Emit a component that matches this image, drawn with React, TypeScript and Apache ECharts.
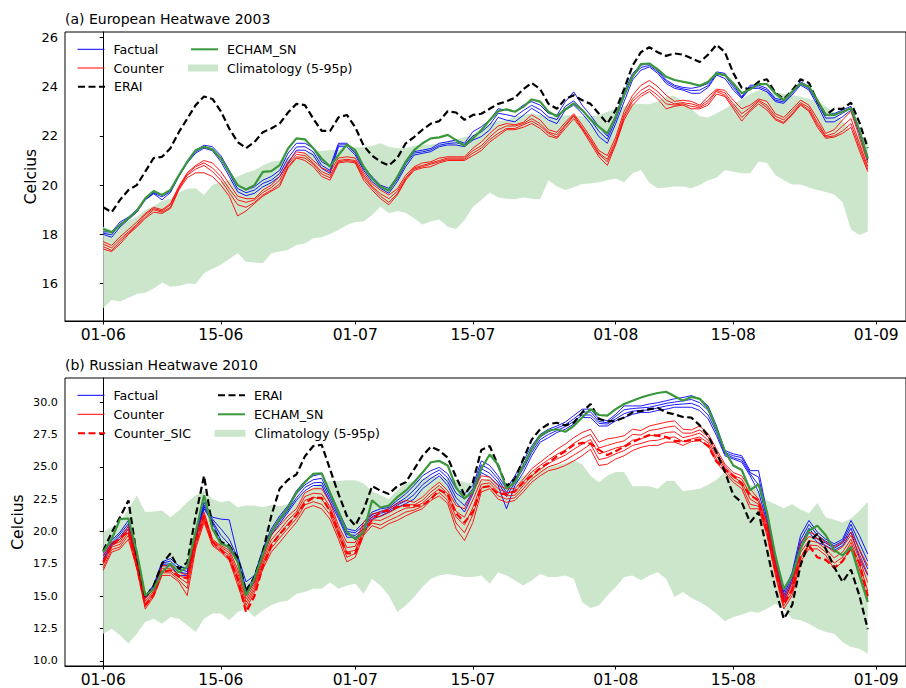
import React, { useEffect, useRef } from 'react';
import * as echarts from 'echarts';

// ---------- shared axis ticks ----------
const xTickDays = [0, 14, 30, 44, 61, 75, 92];
const xTickLabels = ['01-06', '15-06', '01-07', '15-07', '01-08', '15-08', '01-09'];
const yTicksA = [16, 18, 20, 22, 24, 26];
const yTicksB = [10, 12.5, 15, 17.5, 20, 22.5, 25, 27.5, 30];

// ---------- (a) European Heatwave 2003 ----------
const eraiA = [19.1, 18.9, 19.4, 19.8, 20.0, 20.55, 21.1, 21.15, 21.5, 22.15,
  22.7, 23.25, 23.6, 23.5, 23.0, 22.3, 21.75, 21.5, 21.75, 22.15,
  22.3, 22.5, 22.95, 23.3, 23.25, 22.7, 22.2, 22.2, 22.75, 22.85,
  22.35, 21.6, 21.2, 20.95, 20.8, 21.1, 21.7, 21.95, 22.25, 22.5,
  22.6, 23.0, 22.95, 22.65, 22.85, 22.9, 23.1, 23.3, 23.4, 23.55,
  23.9, 24.15, 23.9, 23.3, 23.1, 23.5, 23.65, 23.45, 23.3, 22.9,
  22.5, 23.05, 23.9, 24.85, 25.4, 25.6, 25.4, 25.25, 25.35, 25.3,
  25.15, 25.0, 25.3, 25.7, 25.4, 24.55, 23.95, 23.9, 24.2, 24.3,
  23.75, 23.5, 23.85, 24.3, 24.15, 23.4, 22.85, 23.1, 23.1, 23.35,
  22.55, 21.5];
const echamA = [18.22, 18.08, 18.38, 18.65, 18.95, 19.46, 19.76, 19.6, 19.8, 20.4,
  20.95, 21.42, 21.56, 21.45, 21.08, 20.54, 20.0, 19.82, 20.0, 20.54,
  20.57, 20.81, 21.49, 21.9, 21.86, 21.5, 21.08, 20.75, 21.22, 21.65,
  21.42, 20.75, 20.27, 19.94, 19.77, 20.34, 20.95, 21.42, 21.7, 21.9,
  21.94, 22.04, 21.83, 21.6, 21.9, 22.23, 22.64, 23.0, 23.08, 22.98,
  23.18, 23.48, 23.39, 22.98, 22.8, 23.08, 23.32, 23.05, 22.67, 22.37,
  22.1, 22.78, 23.66, 24.4, 24.92, 24.94, 24.7, 24.4, 24.27, 24.2,
  24.13, 24.04, 24.2, 24.54, 24.47, 24.13, 23.73, 23.89, 24.1, 24.1,
  23.73, 23.45, 23.8, 24.13, 24.0, 23.45, 22.85, 22.85, 22.98, 23.12,
  22.24, 21.08];
const factualA1 = [18.1, 18.1, 18.5, 18.7, 19.0, 19.45, 19.7, 19.6, 19.78, 20.4,
  20.95, 21.42, 21.62, 21.56, 21.2, 20.6, 20.0, 19.8, 19.93, 20.2,
  20.35, 20.6, 21.3, 21.7, 21.7, 21.5, 20.95, 20.75, 21.7, 21.7,
  21.36, 20.75, 20.34, 20.0, 19.87, 20.34, 20.95, 21.36, 21.42, 21.49,
  21.7, 21.76, 21.83, 21.7, 22.17, 22.37, 22.64, 23.1, 23.05, 22.98,
  23.25, 23.39, 23.25, 22.91, 22.84, 23.39, 23.79, 23.25, 22.84, 22.37,
  21.99, 22.84, 23.79, 24.53, 24.87, 24.94, 24.67, 24.27, 24.06, 23.97,
  23.93, 24.0, 24.13, 24.6, 24.54, 24.06, 23.59, 24.06, 24.06, 23.93,
  23.52, 23.45, 23.79, 24.2, 24.0, 23.45, 22.85, 22.91, 23.05, 23.2,
  22.24, 21.15];
const factualA2 = [18.05, 17.98, 18.42, 18.66, 18.95, 19.42, 19.67, 19.52, 19.74, 20.37,
  20.92, 21.36, 21.55, 21.47, 21.07, 20.47, 19.86, 19.69, 19.8, 20.07,
  20.2, 20.47, 21.1, 21.55, 21.56, 21.35, 20.8, 20.6, 21.63, 21.64,
  21.3, 20.68, 20.25, 19.93, 19.78, 20.23, 20.86, 21.3, 21.35, 21.43,
  21.62, 21.69, 21.72, 21.64, 22.0, 22.16, 22.45, 22.92, 22.86, 22.78,
  23.03, 23.24, 23.07, 22.77, 22.66, 23.2, 23.42, 23.07, 22.67, 22.18,
  21.86, 22.66, 23.6, 24.41, 24.78, 24.86, 24.61, 24.21, 24.0, 23.91,
  23.84, 23.86, 24.04, 24.52, 24.45, 23.97, 23.55, 23.99, 23.99, 23.86,
  23.45, 23.38, 23.73, 24.12, 23.92, 23.36, 22.72, 22.73, 22.92, 23.13,
  22.17, 21.08];
const factualA3 = [18.0, 17.88, 18.3, 18.6, 18.9, 19.4, 19.65, 19.4, 19.7, 20.35,
  20.9, 21.3, 21.5, 21.4, 20.95, 20.35, 19.73, 19.57, 19.67, 19.93,
  20.1, 20.35, 20.9, 21.42, 21.42, 21.22, 20.68, 20.48, 21.56, 21.56,
  21.22, 20.6, 20.14, 19.87, 19.67, 20.14, 20.75, 21.22, 21.29, 21.36,
  21.56, 21.63, 21.63, 21.56, 21.83, 21.97, 22.24, 22.75, 22.64, 22.57,
  22.84, 23.12, 22.91, 22.64, 22.5, 23.05, 23.25, 22.91, 22.5, 21.97,
  21.7, 22.5, 23.39, 24.27, 24.67, 24.8, 24.54, 24.13, 23.93, 23.86,
  23.73, 23.73, 23.97, 24.47, 24.33, 23.86, 23.52, 23.93, 23.93, 23.79,
  23.39, 23.32, 23.66, 24.06, 23.86, 23.25, 22.57, 22.57, 22.78, 23.05,
  22.1, 21.0];
const counterA1 = [17.7, 17.55, 17.9, 18.2, 18.5, 18.85, 19.1, 19.0, 19.25, 19.95,
  20.5, 20.8, 21.0, 20.9, 20.55, 20.05, 19.55, 19.45, 19.45, 19.8,
  20.0, 20.35, 20.95, 21.35, 21.3, 21.0, 20.7, 20.55, 21.1, 21.15,
  21.1, 20.5, 20.05, 19.8, 19.6, 19.85, 20.4, 20.75, 20.9, 20.95,
  21.1, 21.15, 21.15, 21.15, 21.5, 21.75, 22.1, 22.4, 22.5, 22.45,
  22.55, 22.85, 22.65, 22.25, 22.15, 22.55, 22.9, 22.45, 21.95, 21.4,
  21.2, 21.95, 23.0, 23.65, 24.05, 24.25, 24.0, 23.65, 23.4, 23.45,
  23.4, 23.25, 23.6, 23.9, 23.85, 23.45, 23.1, 23.25, 23.5, 23.4,
  22.9, 22.75, 23.1, 23.45, 23.25, 22.7, 22.1, 22.25, 22.65, 23.0,
  21.95, 20.9];
const counterA2 = [17.6, 17.45, 17.8, 18.1, 18.4, 18.8, 19.05, 18.95, 19.2, 19.9,
  20.45, 20.75, 20.9, 20.7, 20.35, 19.85, 19.4, 19.3, 19.4, 19.7,
  19.9, 20.2, 20.85, 21.25, 21.2, 20.9, 20.55, 20.4, 21.0, 21.05,
  21.0, 20.4, 19.95, 19.65, 19.45, 19.75, 20.3, 20.7, 20.8, 20.9,
  21.0, 21.1, 21.1, 21.1, 21.4, 21.6, 21.95, 22.25, 22.4, 22.4,
  22.5, 22.7, 22.5, 22.15, 22.05, 22.45, 22.85, 22.35, 21.85, 21.3,
  21.05, 21.8, 22.85, 23.5, 23.85, 24.05, 23.8, 23.45, 23.3, 23.35,
  23.3, 23.2, 23.45, 23.85, 23.75, 23.3, 22.9, 23.15, 23.45, 23.25,
  22.8, 22.65, 23.0, 23.35, 23.15, 22.55, 22.0, 22.1, 22.4, 22.7,
  21.7, 20.75];
const counterA3 = [17.5, 17.35, 17.7, 18.05, 18.35, 18.7, 19.0, 18.9, 19.1, 19.85,
  20.4, 20.65, 20.8, 20.55, 20.2, 19.7, 19.2, 19.1, 19.3, 19.6,
  19.8, 20.05, 20.75, 21.15, 21.1, 20.85, 20.45, 20.3, 20.95, 21.0,
  20.95, 20.3, 19.9, 19.55, 19.3, 19.65, 20.25, 20.65, 20.75, 20.85,
  20.95, 21.05, 21.05, 21.05, 21.3, 21.5, 21.85, 22.1, 22.3, 22.3,
  22.45, 22.6, 22.4, 22.1, 21.95, 22.4, 22.8, 22.3, 21.8, 21.25,
  20.95, 21.7, 22.75, 23.4, 23.7, 23.9, 23.65, 23.3, 23.25, 23.3,
  23.2, 23.15, 23.35, 23.8, 23.65, 23.2, 22.75, 23.05, 23.4, 23.15,
  22.7, 22.55, 22.9, 23.3, 23.05, 22.45, 21.95, 22.0, 22.2, 22.5,
  21.55, 20.65];
const counterA4 = [17.4, 17.3, 17.6, 18.0, 18.3, 18.65, 18.9, 18.85, 19.05, 19.8,
  20.3, 20.5, 20.5, 20.35, 20.0, 19.55, 18.75, 18.95, 19.25, 19.55,
  19.75, 19.95, 20.7, 21.1, 21.0, 20.75, 20.35, 20.2, 20.9, 20.95,
  20.9, 20.2, 19.8, 19.45, 19.2, 19.6, 20.2, 20.6, 20.7, 20.75,
  20.9, 21.0, 21.0, 21.0, 21.2, 21.4, 21.75, 22.0, 22.25, 22.25,
  22.35, 22.5, 22.3, 22.0, 21.9, 22.3, 22.7, 22.25, 21.7, 21.15,
  20.8, 21.65, 22.65, 23.25, 23.6, 23.8, 23.5, 23.1, 23.2, 23.25,
  23.1, 23.1, 23.25, 23.7, 23.6, 23.1, 22.6, 23.0, 23.3, 23.05,
  22.65, 22.5, 22.85, 23.25, 23.0, 22.35, 21.9, 21.95, 22.1, 22.35,
  21.4, 20.55];
const climLoA = [15.0, 15.33, 15.27, 15.42, 15.58, 15.63, 15.8, 16.04, 15.87, 15.9,
  16.0, 15.98, 16.42, 16.6, 16.76, 17.0, 17.23, 16.89, 16.86, 16.83,
  17.23, 17.3, 17.36, 17.57, 17.63, 17.84, 17.88, 18.01, 18.18, 18.38,
  18.5, 18.52, 18.79, 19.12, 18.86, 18.95, 18.88, 18.65, 18.4, 18.52,
  18.6, 18.31, 18.22, 18.58, 19.12, 19.4, 19.7, 19.5, 19.45, 19.43,
  19.5, 19.45, 19.43, 20.2, 19.94, 19.8, 19.91, 20.05, 20.07, 20.12,
  20.2, 20.27, 20.12, 20.48, 20.61, 20.1, 19.87, 19.9, 19.94, 19.94,
  19.87, 20.0, 20.2, 20.3, 20.61, 20.54, 20.48, 20.48, 20.95, 20.91,
  20.41, 20.2, 20.03, 20.03, 19.9, 19.8, 19.72, 19.62, 19.3, 18.2,
  17.97, 18.12];
const climHiA = [18.31, 18.18, 18.35, 18.55, 18.72, 18.99, 19.15, 19.35, 19.45, 19.7,
  19.85, 19.87, 19.6, 20.0, 20.12, 20.2, 20.35, 20.5, 20.6, 20.8,
  20.95, 21.0, 21.12, 21.15, 21.3, 21.36, 21.4, 21.42, 21.45, 21.5,
  21.53, 21.55, 21.6, 21.7, 21.56, 21.5, 21.5, 21.6, 21.65, 21.65,
  21.7, 21.8, 21.85, 21.95, 22.05, 22.3, 22.5, 22.6, 22.64, 22.8,
  22.84, 22.91, 22.84, 22.8, 22.8, 22.84, 22.84, 22.8, 22.8, 22.84,
  22.98, 23.1, 23.2, 23.32, 23.3, 23.28, 23.4, 23.6, 23.62, 23.4,
  23.1, 22.8, 22.75, 22.92, 23.1, 23.3, 23.5, 23.7, 23.85, 23.8,
  23.75, 23.7, 23.65, 23.6, 23.5, 23.4, 23.2, 22.95, 22.6, 22.2,
  22.0, 21.85];

// ---------- (b) Russian Heatwave 2010 ----------
const eraiB = [18.5, 19.9, 21.1, 22.4, 18.1, 14.9, 15.8, 17.5, 18.3, 17.1,
  17.6, 21.2, 24.3, 20.3, 19.2, 18.9, 18.0, 15.35, 16.5, 18.4,
  21.2, 23.3, 24.0, 24.4, 25.8, 26.6, 26.7, 24.8, 22.9, 21.2,
  20.45, 21.7, 23.5, 23.15, 22.9, 23.5, 23.8, 24.8, 25.85, 26.55,
  26.25, 25.7, 24.2, 22.8, 23.8, 26.3, 26.6, 25.1, 23.5, 24.05,
  25.6, 27.1, 27.9, 28.3, 28.4, 28.2, 28.4, 29.2, 29.85, 28.7,
  28.5, 28.55, 28.8, 29.2, 29.3, 29.45, 29.55, 29.2, 29.05, 28.85,
  28.8, 28.2, 27.4, 26.1, 24.6, 22.8, 22.25, 20.7, 21.5, 18.6,
  15.6, 13.25, 14.3, 17.4, 19.2, 19.8, 18.65, 17.25, 16.1, 17.05,
  15.05, 12.45];
const echamB = [18.4, 19.4, 20.95, 21.0, 18.4, 15.05, 15.55, 16.85, 17.5, 16.85,
  17.25, 19.95, 22.8, 20.2, 19.05, 18.8, 17.65, 15.05, 16.35, 18.25,
  19.95, 20.95, 21.85, 23.0, 23.8, 24.45, 24.5, 23.0, 21.5, 19.95,
  19.4, 19.95, 22.4, 21.85, 22.0, 22.65, 23.15, 23.8, 24.55, 25.35,
  25.45, 25.1, 23.4, 22.55, 23.05, 24.85, 25.95, 25.15, 23.3, 23.8,
  25.1, 26.35, 27.4, 27.8, 27.9, 27.7, 28.15, 28.8, 29.45, 29.0,
  28.95, 29.45, 29.85, 30.1, 30.35, 30.55, 30.7, 30.8, 30.45, 30.1,
  30.4, 30.25, 29.5, 27.9, 26.2, 25.1, 24.75, 23.2, 23.65, 21.5,
  18.15, 15.55, 16.6, 18.65, 20.05, 20.45, 19.7, 18.55, 18.15, 18.8,
  16.6, 14.55];
const factualB1 = [18.3, 19.3, 19.95, 20.85, 18.15, 15.05, 15.85, 17.65, 17.9, 17.35,
  17.1, 19.95, 22.25, 21.1, 20.95, 20.9, 18.15, 16.1, 16.6, 18.65,
  20.2, 21.2, 22.0, 23.15, 23.9, 24.3, 24.45, 23.0, 21.6, 20.2,
  20.05, 20.7, 21.5, 21.75, 21.85, 22.4, 22.9, 23.55, 24.3, 24.7,
  24.95, 24.45, 23.3, 22.9, 23.55, 25.45, 25.1, 24.3, 23.3, 24.3,
  25.45, 26.6, 27.5, 27.9, 28.15, 28.45, 28.95, 29.45, 29.45, 28.7,
  28.55, 29.05, 29.7, 29.7, 29.7, 29.85, 29.95, 30.1, 30.25, 30.35,
  30.5, 30.25, 29.7, 28.15, 26.25, 26.0, 25.85, 24.7, 24.7, 21.5,
  18.15, 15.3, 16.85, 19.7, 20.85, 19.95, 19.4, 19.05, 19.4, 20.85,
  19.7, 18.25];
const factualB2 = [18.1, 19.1, 19.8, 20.6, 17.95, 15.0, 15.75, 17.55, 17.7, 17.1,
  16.9, 19.75, 22.05, 20.95, 20.2, 19.4, 17.95, 15.6, 16.4, 18.45,
  20.0, 21.0, 21.8, 22.9, 23.6, 24.0, 24.1, 22.75, 21.4, 20.0,
  19.9, 20.45, 21.3, 21.55, 21.75, 22.2, 22.6, 23.2, 23.95, 24.4,
  24.75, 24.15, 22.95, 22.5, 23.3, 25.15, 24.8, 24.05, 23.0, 24.05,
  25.15, 26.35, 27.3, 27.7, 28.0, 28.25, 28.7, 29.2, 29.25, 28.5,
  28.4, 28.9, 29.4, 29.5, 29.55, 29.6, 29.75, 29.9, 30.0, 30.1,
  30.2, 29.95, 29.35, 27.9, 26.1, 25.85, 25.7, 24.55, 24.2, 21.25,
  17.9, 15.05, 16.6, 19.35, 20.55, 19.7, 19.25, 18.9, 19.25, 20.55,
  19.1, 17.7];
const factualB3 = [17.9, 19.0, 19.6, 20.4, 17.8, 14.9, 15.65, 17.45, 17.5, 16.85,
  16.75, 19.6, 21.9, 20.8, 19.7, 19.0, 17.8, 15.3, 16.25, 18.3,
  19.85, 20.8, 21.65, 22.6, 23.4, 23.75, 23.8, 22.5, 21.2, 19.75,
  19.7, 20.2, 21.15, 21.4, 21.6, 22.05, 22.35, 22.85, 23.6, 24.1,
  24.5, 23.85, 22.6, 22.0, 23.1, 24.85, 24.5, 23.8, 22.7, 23.8,
  24.85, 26.1, 27.1, 27.5, 27.8, 28.1, 28.5, 29.0, 29.0, 28.35,
  28.3, 28.7, 29.1, 29.3, 29.35, 29.4, 29.55, 29.7, 29.8, 29.85,
  29.9, 29.65, 29.0, 27.65, 26.0, 25.7, 25.5, 24.45, 23.6, 21.0,
  17.6, 14.8, 16.35, 19.0, 20.25, 19.4, 19.1, 18.7, 19.1, 20.25,
  18.6, 17.1];
const factualB4 = [17.75, 18.9, 19.4, 20.2, 17.6, 14.85, 15.55, 17.35, 17.35, 16.6,
  16.6, 19.4, 21.75, 20.7, 19.3, 18.65, 17.6, 15.05, 16.1, 18.15,
  19.7, 20.6, 21.5, 22.4, 23.15, 23.55, 23.55, 22.25, 21.0, 19.55,
  19.55, 19.95, 20.95, 21.2, 21.5, 21.85, 22.15, 22.5, 23.3, 23.8,
  24.3, 23.55, 22.25, 21.5, 22.9, 24.55, 24.2, 23.55, 21.75, 23.55,
  24.55, 25.85, 26.9, 27.25, 27.65, 27.9, 28.3, 28.8, 28.8, 28.15,
  28.15, 28.55, 28.8, 29.05, 29.2, 29.2, 29.35, 29.45, 29.6, 29.6,
  29.6, 29.35, 28.7, 27.4, 25.85, 25.6, 25.35, 24.3, 23.05, 20.7,
  17.35, 14.55, 16.1, 18.65, 19.95, 19.15, 18.9, 18.55, 18.9, 19.95,
  18.0, 16.6];
const counterB1 = [18.1, 19.15, 19.4, 20.45, 17.9, 14.8, 15.55, 17.35, 17.35, 16.85,
  16.6, 19.7, 21.5, 19.4, 18.9, 18.55, 17.1, 15.05, 16.1, 18.0,
  19.7, 20.45, 21.2, 21.75, 23.0, 23.3, 23.3, 22.25, 20.45, 19.15,
  19.15, 20.7, 21.35, 21.5, 21.75, 22.15, 22.4, 22.25, 22.65, 23.3,
  23.8, 23.15, 22.0, 21.75, 23.05, 24.3, 24.2, 23.55, 23.3, 23.3,
  24.05, 24.85, 25.35, 25.85, 26.35, 26.75, 27.25, 27.65, 27.9, 26.9,
  27.15, 27.25, 27.4, 27.9, 27.8, 28.15, 28.3, 28.45, 28.55, 27.9,
  27.85, 28.15, 27.55, 26.35, 25.2, 24.55, 24.3, 23.3, 22.5, 20.7,
  17.65, 14.95, 16.1, 19.15, 19.95, 19.7, 19.15, 18.8, 19.15, 19.95,
  18.65, 17.35];
const counterB2 = [17.8, 18.95, 19.2, 20.2, 17.7, 14.6, 15.4, 17.15, 17.15, 16.65,
  16.3, 19.4, 21.3, 19.3, 18.8, 18.35, 16.8, 14.8, 15.9, 17.8,
  19.35, 20.1, 20.9, 21.5, 22.7, 22.95, 22.9, 21.9, 20.2, 18.75,
  18.85, 20.45, 21.1, 21.15, 21.45, 21.8, 22.1, 22.05, 22.4, 23.05,
  23.55, 22.9, 21.55, 21.1, 22.45, 24.0, 23.95, 23.3, 23.0, 23.05,
  23.8, 24.6, 25.1, 25.55, 25.95, 26.3, 26.8, 27.2, 27.5, 26.45,
  26.65, 26.85, 27.0, 27.5, 27.45, 27.8, 27.9, 28.05, 28.15, 27.6,
  27.6, 27.85, 27.3, 26.1, 25.05, 24.35, 24.05, 22.9, 22.3, 20.45,
  17.4, 14.7, 15.85, 18.8, 19.6, 19.45, 18.9, 18.4, 18.8, 19.7,
  18.25, 16.7];
const counterB3 = [17.5, 18.8, 19.0, 19.95, 17.5, 14.4, 15.25, 16.95, 16.95, 16.45,
  16.0, 19.15, 21.1, 19.15, 18.65, 18.15, 16.5, 14.55, 15.7, 17.55,
  19.05, 19.8, 20.6, 21.25, 22.4, 22.65, 22.5, 21.6, 19.95, 18.4,
  18.55, 20.2, 20.9, 20.85, 21.15, 21.5, 21.8, 21.85, 22.2, 22.8,
  23.3, 22.65, 21.1, 20.5, 21.85, 23.65, 23.75, 23.05, 22.75, 22.8,
  23.55, 24.3, 24.8, 25.25, 25.6, 25.9, 26.35, 26.75, 27.1, 26.0,
  26.2, 26.45, 26.6, 27.05, 27.15, 27.4, 27.45, 27.65, 27.7, 27.25,
  27.4, 27.6, 27.05, 25.85, 24.9, 24.2, 23.8, 22.5, 22.1, 20.2,
  17.1, 14.5, 15.6, 18.4, 19.3, 19.15, 18.65, 17.95, 18.4, 19.4,
  17.9, 16.05];
const counterB4 = [17.2, 18.6, 18.8, 19.7, 17.3, 14.2, 15.1, 16.8, 16.8, 16.25,
  15.6, 18.9, 20.9, 19.0, 18.5, 17.95, 16.15, 14.3, 15.5, 17.35,
  18.7, 19.5, 20.25, 21.0, 22.05, 22.3, 22.1, 21.3, 19.7, 18.0,
  18.3, 19.95, 20.65, 20.5, 20.85, 21.15, 21.5, 21.65, 21.95, 22.6,
  23.0, 22.4, 20.65, 19.9, 21.3, 23.35, 23.5, 22.75, 22.5, 22.6,
  23.3, 24.05, 24.55, 25.0, 25.2, 25.5, 25.9, 26.3, 26.75, 25.55,
  25.7, 26.0, 26.25, 26.65, 26.8, 27.0, 27.05, 27.25, 27.3, 26.95,
  27.15, 27.3, 26.85, 25.6, 24.75, 24.0, 23.55, 22.1, 21.95, 19.95,
  16.85, 14.25, 15.3, 18.0, 18.95, 18.9, 18.4, 17.55, 18.0, 19.15,
  17.5, 15.4];
const counterB5 = [17.0, 18.4, 18.65, 19.4, 17.1, 14.0, 14.95, 16.6, 16.6, 16.1,
  15.05, 18.65, 20.7, 18.9, 18.4, 17.75, 15.85, 14.0, 15.3, 17.1,
  18.4, 19.15, 19.95, 20.7, 21.75, 22.0, 21.75, 20.95, 19.4, 17.65,
  18.0, 19.7, 20.45, 20.2, 20.6, 20.85, 21.2, 21.5, 21.75, 22.4,
  22.75, 22.15, 20.2, 19.3, 20.7, 23.05, 23.3, 22.5, 22.25, 22.4,
  23.05, 23.8, 24.3, 24.7, 24.85, 25.1, 25.45, 25.85, 26.35, 25.1,
  25.2, 25.6, 25.85, 26.25, 26.5, 26.65, 26.65, 26.9, 26.9, 26.65,
  26.95, 27.0, 26.65, 25.35, 24.55, 23.8, 23.3, 21.75, 21.75, 19.7,
  16.6, 14.0, 15.05, 17.65, 18.65, 18.65, 18.15, 17.1, 17.65, 18.9,
  17.1, 14.8];
const counterSicB = [17.6, 18.9, 19.5, 20.0, 17.3, 14.3, 15.1, 16.9, 17.0, 16.5,
  16.4, 19.2, 21.2, 19.2, 18.6, 17.9, 16.35, 13.75, 15.0, 17.3,
  18.9, 19.8, 20.5, 21.3, 22.2, 22.6, 22.6, 21.6, 19.9, 18.3,
  18.3, 19.9, 20.9, 21.5, 21.6, 21.9, 22.0, 22.0, 22.0, 22.5,
  23.2, 22.9, 21.4, 20.7, 21.5, 23.4, 23.5, 22.9, 22.9, 23.1,
  23.8, 24.3, 24.9, 25.3, 25.8, 26.2, 26.7, 26.85, 26.8, 26.3,
  25.9, 26.2, 26.55, 26.9, 27.2, 27.45, 27.4, 27.3, 27.0, 26.95,
  27.05, 27.1, 26.6, 25.4, 24.8, 24.3, 23.7, 22.8, 22.4, 20.0,
  17.0, 14.4, 15.5, 18.0, 18.9, 18.0, 17.8, 17.2, 17.7, 18.7,
  17.6, 15.0];
const climLoB = [12.1, 12.48, 11.97, 11.33, 12.1, 13.0, 13.26, 12.87, 13.39, 13.26,
  12.74, 12.23, 13.26, 13.65, 13.65, 13.13, 13.77, 14.02, 13.39, 13.9,
  14.29, 14.54, 14.67, 15.18, 15.31, 15.57, 15.57, 16.08, 15.57, 15.83,
  15.96, 15.18, 16.34, 15.83, 15.05, 13.77, 14.28, 14.93, 15.7, 16.34,
  16.6, 16.72, 16.6, 16.47, 16.47, 16.6, 15.96, 16.85, 16.6, 16.21,
  15.83, 16.21, 16.72, 16.47, 16.47, 16.6, 16.34, 14.54, 14.08, 14.28,
  15.05, 15.7, 16.47, 16.6, 16.21, 16.6, 16.85, 16.34, 14.93, 15.31,
  14.85, 14.54, 14.15, 13.64, 13.05, 13.38, 13.57, 13.82, 13.72, 14.03,
  14.41, 14.03, 13.26, 13.13, 12.87, 12.48, 12.23, 12.1, 11.46, 11.07,
  10.94, 10.55];
const climHiB = [19.94, 20.32, 20.71, 21.74, 22.77, 21.48, 21.54, 21.61, 21.1, 21.61,
  22.26, 22.77, 23.16, 22.51, 22.26, 22.38, 21.87, 22.0, 22.0, 21.87,
  22.05, 21.95, 22.13, 22.5, 23.0, 23.4, 23.8, 23.9, 23.9, 23.95,
  23.95, 23.7, 23.1, 22.8, 22.5, 23.2, 23.7, 23.9, 24.1, 24.25,
  24.2, 24.1, 24.0, 23.8, 23.7, 23.9, 24.1, 23.8, 23.7, 24.0,
  24.3, 24.6, 24.9, 25.0, 25.1, 25.3, 25.5, 25.2, 24.3, 23.8,
  24.3, 24.6, 24.6, 23.5, 23.5, 23.5, 23.3, 23.9, 23.9, 23.1,
  23.2, 23.3, 23.6, 24.0, 24.6, 24.2, 24.0, 23.6, 23.1, 22.4,
  22.1, 21.8, 22.1, 21.7, 21.4, 22.2, 21.1, 20.9, 20.7, 21.0,
  21.6, 22.3];

// ---------- styling ----------
const FONT = 'DejaVu Sans';
const BAND = '#cce6cc';
const GREEN = '#3b973b';
const BLUE = '#0000ff';
const RED = '#ff0000';

const xy = (arr: number[]) => arr.map((v, i) => [i, v]);

function line(name: string, arr: number[], g: number, color: string, width: number, dashed = false, z = 3) {
  return {
    type: 'line', name, xAxisIndex: g, yAxisIndex: g, data: xy(arr),
    symbol: 'none', showSymbol: false, silent: true, z,
    lineStyle: { color, width, type: dashed ? [7, 3.5] : 'solid', cap: 'butt' },
    itemStyle: { color },
    emphasis: { disabled: true },
  };
}

function band(lo: number[], hi: number[], g: number) {
  return {
    type: 'custom', name: 'Climatology (5-95p)', xAxisIndex: g, yAxisIndex: g,
    data: [[0, lo[0]]], silent: true, z: 1, clip: true,
    itemStyle: { color: BAND },
    renderItem: (_p: any, api: any) => {
      const pts: number[][] = [];
      for (let i = 0; i < hi.length; i++) pts.push(api.coord([i, hi[i]]));
      for (let i = lo.length - 1; i >= 0; i--) pts.push(api.coord([i, lo[i]]));
      return { type: 'polygon', shape: { points: pts }, style: { fill: BAND, stroke: null } };
    },
  };
}

function leg(item: any, left: number, cy: number, extra: any = {}) {
  return {
    left, top: cy - 6.5, orient: 'horizontal', padding: 0, itemGap: 0, selectedMode: false,
    itemWidth: 27, itemHeight: 12,
    itemStyle: { opacity: 0 },
    textStyle: { fontFamily: FONT, fontSize: 12.6, color: '#000', padding: [0, 0, 0, 4] },
    data: [item], ...extra,
  };
}

const thin = (name: string) => ({ name, lineStyle: { width: 1 } });

function xAxis(g: number) {
  return {
    type: 'value', gridIndex: g, min: -4.55, max: 95.55,
    axisLine: { show: true, lineStyle: { color: '#000', width: 1 } },
    axisTick: { show: true, length: 3.5, lineStyle: { color: '#000' }, customValues: xTickDays },
    axisLabel: {
      customValues: xTickDays,
      formatter: (v: number) => { const k = xTickDays.indexOf(v); return k >= 0 ? xTickLabels[k] : ''; },
      fontFamily: FONT, fontSize: 15.5, color: '#000', margin: 6,
    },
    splitLine: { show: false },
  };
}

function yAxis(g: number, min: number, max: number, ticks: number[], fmt: (v: number) => string, fs: number, gap: number) {
  return {
    type: 'value', gridIndex: g, min, max,
    name: 'Celcius', nameLocation: 'middle', nameGap: gap, nameRotate: 90,
    nameMoveOverlap: false,
    nameTextStyle: { fontFamily: FONT, fontSize: 15.5, color: '#000' },
    axisLine: { show: true, lineStyle: { color: '#000', width: 1 } },
    axisTick: { show: true, length: 3.5, lineStyle: { color: '#000' }, customValues: ticks },
    axisLabel: { customValues: ticks, formatter: fmt, fontFamily: FONT, fontSize: fs, color: '#000', margin: 7 },
    splitLine: { show: false },
  };
}

function buildOption() {
  const series: any[] = [
    band(climLoA, climHiA, 0),
    line('Factual', factualA1, 0, BLUE, 0.9),
    line('Factual', factualA2, 0, BLUE, 0.9),
    line('Factual', factualA3, 0, BLUE, 0.9),
    line('Counter', counterA1, 0, RED, 0.9),
    line('Counter', counterA2, 0, RED, 0.9),
    line('Counter', counterA3, 0, RED, 0.9),
    line('Counter', counterA4, 0, RED, 0.9),
    line('ERAI', eraiA, 0, '#000', 2.2, true, 4),
    line('ECHAM_SN', echamA, 0, GREEN, 2.2, false, 5),

    band(climLoB, climHiB, 1),
    line('Factual', factualB1, 1, BLUE, 0.9),
    line('Factual', factualB2, 1, BLUE, 0.9),
    line('Factual', factualB3, 1, BLUE, 0.9),
    line('Factual', factualB4, 1, BLUE, 0.9),
    line('Counter', counterB1, 1, RED, 0.9),
    line('Counter', counterB2, 1, RED, 0.9),
    line('Counter', counterB3, 1, RED, 0.9),
    line('Counter', counterB4, 1, RED, 0.9),
    line('Counter', counterB5, 1, RED, 0.9),
    line('Counter_SIC', counterSicB, 1, RED, 2.2, true, 4),
    line('ERAI', eraiB, 1, '#000', 2.2, true, 4),
    line('ECHAM_SN', echamB, 1, GREEN, 2.2, false, 5),
  ];
  const climItem = { name: 'Climatology (5-95p)', icon: 'rect', itemStyle: { color: BAND, opacity: 1 } };
  return {
    animation: false,
    backgroundColor: '#fff',
    title: [
      { text: '(a) European Heatwave 2003', left: 65, top: 12, padding: 0,
        textStyle: { fontFamily: FONT, fontSize: 14, fontWeight: 'normal', color: '#000' } },
      { text: '(b) Russian Heatwave 2010', left: 65, top: 358, padding: 0,
        textStyle: { fontFamily: FONT, fontSize: 14, fontWeight: 'normal', color: '#000' } },
    ],
    grid: [
      { left: 65, top: 32, width: 849, height: 289, show: true, borderColor: '#000', borderWidth: 1, containLabel: false },
      { left: 65, top: 378, width: 849, height: 289, show: true, borderColor: '#000', borderWidth: 1, containLabel: false },
    ],
    xAxis: [xAxis(0), xAxis(1)],
    yAxis: [
      yAxis(0, 14.48, 26.22, yTicksA, (v: number) => String(v), 13, 26),
      yAxis(1, 9.6, 31.86, yTicksB, (v: number) => v.toFixed(1), 11.2, 39),
    ],
    legend: [
      leg(thin('Factual'), 77, 49.3),
      leg(thin('Counter'), 77, 68),
      leg('ERAI', 77, 86.7),
      leg('ECHAM_SN', 190, 49.3),
      leg(climItem, 188, 68, { itemWidth: 30, itemHeight: 7, itemStyle: { opacity: 1 } }),
      leg(thin('Factual'), 77, 395.3),
      leg(thin('Counter'), 77, 414.3),
      leg('Counter_SIC', 77, 433.3),
      leg('ERAI', 217, 395.3),
      leg('ECHAM_SN', 217, 414.3),
      leg(climItem, 214.5, 433.3, { itemWidth: 31, itemHeight: 7, itemStyle: { opacity: 1 } }),
    ],
    series,
  };
}

export default function App() {
  const ref = useRef<HTMLDivElement>(null);
  useEffect(() => {
    document.body.style.margin = '0';
    const chart = echarts.init(ref.current as HTMLDivElement, null, { renderer: 'svg' });
    chart.setOption(buildOption() as any);
    return () => chart.dispose();
  }, []);
  return <div ref={ref} style={{ width: 906, height: 688 }} />;
}
